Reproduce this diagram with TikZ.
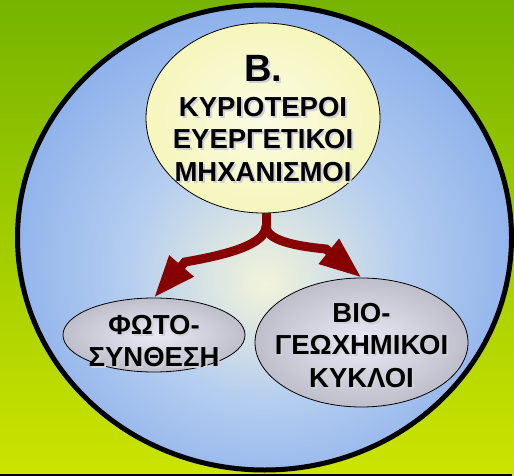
\documentclass[tikz,border=0pt]{standalone}
\usepackage{fontspec}
\setmainfont{Liberation Sans}
\usetikzlibrary{arrows.meta,shapes.geometric}
\definecolor{bgtop}{HTML}{76B400}
\definecolor{bgbot}{HTML}{CCE400}
\definecolor{bcA}{HTML}{F2F4DA}
\definecolor{bcB}{HTML}{B4CDF0}
\definecolor{bcC}{HTML}{5B8CE6}
\definecolor{ylA}{HTML}{FBFBE4}
\definecolor{ylB}{HTML}{F2F2A2}
\definecolor{grA}{HTML}{EAEAF6}
\definecolor{grB}{HTML}{9A9AA6}
\definecolor{arrred}{HTML}{860000}
\definecolor{shadowc}{HTML}{D0D0D6}
\pgfdeclareradialshading{bluecirc}{\pgfpoint{0bp}{-5bp}}{color(0bp)=(bcA); color(14bp)=(bcB); color(44bp)=(bcC); color(50bp)=(bcC)}
\pgfdeclareradialshading{yellowsh}{\pgfpoint{0bp}{0bp}}{color(0bp)=(ylA); color(42bp)=(ylB); color(50bp)=(ylB)}
\pgfdeclareradialshading{greysh}{\pgfpoint{0bp}{0bp}}{color(0bp)=(grA); color(46bp)=(grB); color(50bp)=(grB)}
\tikzset{
  arr/.style={draw=arrred, line width=9pt, -{Triangle[length=42pt,width=30pt]}},
  bigell/.style={ellipse, draw=black, line width=5pt, shading=bluecirc, inner sep=0pt},
  yell/.style={ellipse, draw=black, line width=0.8pt, shading=yellowsh, inner sep=0pt},
  greyell/.style={ellipse, draw=black, line width=0.8pt, shading=greysh, inner sep=0pt},
  lbl/.style={align=center, inner sep=0pt, font=\fontsize{27.5}{32.5}\selectfont\bfseries, text=black},
  shlbl/.style={lbl, text=shadowc},
}
\begin{document}
\begin{tikzpicture}[x=1pt,y=-1pt]
\useasboundingbox (0,0) rectangle (514,476);
\shade[top color=bgtop, bottom color=bgbot] (0,0) rectangle (514,476);
\node[bigell, minimum width=494pt, minimum height=465pt] (big) at (264.5,237.5) {};
% top ellipse
\node[yell, minimum width=234pt, minimum height=190pt] (top) at (263,118) {};
\node[shlbl] (topsh) at (265,120.5) {{\fontsize{38}{38}\selectfont Β.}\\[2pt]ΚΥΡΙΟΤΕΡΟΙ\\ΕΥΕΡΓΕΤΙΚΟΙ\\ΜΗΧΑΝΙΣΜΟΙ};
\node[lbl] (toptxt) at (263,118.5) {{\fontsize{38}{38}\selectfont Β.}\\[2pt]ΚΥΡΙΟΤΕΡΟΙ\\ΕΥΕΡΓΕΤΙΚΟΙ\\ΜΗΧΑΝΙΣΜΟΙ};
% bottom ellipses
\node[greyell, minimum width=182pt, minimum height=74pt] (fot) at (154,335) {};
\node[shlbl] (fotsh) at (156,343) {ΦΩΤΟ-\\ΣΥΝΘΕΣΗ};
\node[lbl] (fottxt) at (154,341) {ΦΩΤΟ-\\ΣΥΝΘΕΣΗ};
\node[greyell, minimum width=213pt, minimum height=129pt] (bio) at (361.5,342.5) {};
\node[shlbl] (biosh) at (363.5,347.5) {ΒΙΟ-\\ΓΕΩΧΗΜΙΚΟΙ\\ΚΥΚΛΟΙ};
\node[lbl] (biotxt) at (361.5,345.5) {ΒΙΟ-\\ΓΕΩΧΗΜΙΚΟΙ\\ΚΥΚΛΟΙ};
% arrows
\coordinate (split) at (266,226);
\coordinate (lbend) at (185,262);
\coordinate (rbend) at (326,249);
\draw[draw=arrred, line width=9pt] (top.south -| split) -- (split);
\draw[arr] (split) .. controls +(0,19) and +(40,-7) .. (lbend) -- (fot.north);
\draw[arr] (split) .. controls +(0,14) and +(-32,-3) .. (rbend) -- (bio.north);
\fill[black] (0,473.5) rectangle (512,476);
\end{tikzpicture}
\end{document}
